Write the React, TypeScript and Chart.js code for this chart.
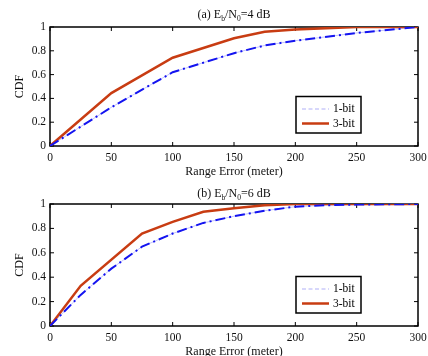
import React, { useEffect, useRef } from "react";
import { Chart, registerables } from "chart.js";
Chart.register(...registerables);

// ---- data ----
const xTicks = [0, 50, 100, 150, 200, 250, 300];
const yTicks = [0, 0.2, 0.4, 0.6, 0.8, 1];

const seriesLabels = ["1-bit", "3-bit"];

// (a) Eb/N0 = 4 dB
const rangeA1 = [0, 50, 100, 150, 175, 200, 250, 300];
const cdfA1 = [0, 0.325, 0.62, 0.78, 0.845, 0.885, 0.95, 1.0];
const rangeA3 = [0, 50, 100, 150, 175, 200, 250, 300];
const cdfA3 = [0, 0.445, 0.742, 0.905, 0.96, 0.98, 1.0, 1.0];

// (b) Eb/N0 = 6 dB
const rangeB1 = [0, 25, 50, 75, 100, 125, 150, 175, 200, 225, 250, 300];
const cdfB1 = [0, 0.255, 0.47, 0.65, 0.758, 0.845, 0.9, 0.945, 0.978, 0.99, 0.995, 1.0];
const rangeB3 = [0, 25, 75, 100, 125, 150, 175, 200, 300];
const cdfB3 = [0, 0.33, 0.758, 0.854, 0.936, 0.965, 0.99, 1.0, 1.0];

const FONT = "'Liberation Serif', 'Times New Roman', serif";
const BLUE = "#1414f0";
const RED = "#c83c12";

const zip = (xs: number[], ys: number[]) => xs.map((x, i) => ({ x, y: ys[i] }));

const framePlugin = {
  id: "frame",
  beforeDatasetsDraw(chart: any) {
    const { ctx, chartArea, scales } = chart;
    const { left, right, top, bottom } = chartArea;
    ctx.save();
    ctx.strokeStyle = "#000";
    ctx.lineWidth = 1.5;
    ctx.strokeRect(left, top, right - left, bottom - top);
    ctx.lineWidth = 1;
    const tl = 4;
    xTicks.forEach((v) => {
      const px = scales.x.getPixelForValue(v);
      ctx.beginPath();
      ctx.moveTo(px, bottom);
      ctx.lineTo(px, bottom - tl);
      ctx.moveTo(px, top);
      ctx.lineTo(px, top + tl);
      ctx.stroke();
    });
    yTicks.forEach((v) => {
      const py = scales.y.getPixelForValue(v);
      ctx.beginPath();
      ctx.moveTo(left, py);
      ctx.lineTo(left + tl, py);
      ctx.moveTo(right, py);
      ctx.lineTo(right - tl, py);
      ctx.stroke();
    });
    // faint thin underlay for the dash-dot 1-bit line
    const meta = chart.getDatasetMeta(0);
    ctx.strokeStyle = "rgba(130,130,255,0.55)";
    ctx.lineWidth = 0.9;
    ctx.beginPath();
    meta.data.forEach((p: any, i: number) => {
      if (i === 0) ctx.moveTo(p.x, p.y);
      else ctx.lineTo(p.x, p.y);
    });
    ctx.stroke();
    ctx.restore();
  },
  afterDraw(chart: any) {
    const { ctx, chartArea } = chart;
    const { right, bottom } = chartArea;
    const bx = right - 122;
    const by = bottom - 49.5;
    const bw = 65;
    const bh = 36.5;
    ctx.save();
    ctx.fillStyle = "#fff";
    ctx.fillRect(bx, by, bw, bh);
    ctx.strokeStyle = "#000";
    ctx.lineWidth = 1.5;
    ctx.strokeRect(bx, by, bw, bh);
    const rows = [by + 12.5, by + 27];
    const ds = chart.data.datasets;
    // 1-bit sample
    ctx.strokeStyle = "rgba(110,110,240,0.55)";
    ctx.lineWidth = 1;
    ctx.setLineDash([4, 2.5]);
    ctx.beginPath();
    ctx.moveTo(bx + 6, rows[0]);
    ctx.lineTo(bx + 33, rows[0]);
    ctx.stroke();
    ctx.setLineDash([]);
    // 3-bit sample
    ctx.strokeStyle = RED;
    ctx.lineWidth = 2.5;
    ctx.beginPath();
    ctx.moveTo(bx + 6, rows[1]);
    ctx.lineTo(bx + 33, rows[1]);
    ctx.stroke();
    ctx.fillStyle = "#000";
    ctx.font = `11.5px ${FONT}`;
    ctx.textBaseline = "middle";
    ctx.textAlign = "left";
    ctx.fillText(ds[0].label, bx + 37, rows[0]);
    ctx.fillText(ds[1].label, bx + 37, rows[1]);
    ctx.restore();
  },
};

function makeConfig(x1: number[], y1: number[], x3: number[], y3: number[], padTop: number): any {
  const font = { family: FONT, size: 11.5 };
  const tfont = { family: FONT, size: 12 };
  return {
    type: "line",
    data: {
      datasets: [
        {
          label: seriesLabels[0],
          data: zip(x1, y1),
          borderColor: BLUE,
          borderWidth: 2,
          borderDash: [10, 4, 2, 4],
          pointRadius: 0,
          tension: 0,
          fill: false,
        },
        {
          label: seriesLabels[1],
          data: zip(x3, y3),
          borderColor: RED,
          borderWidth: 2.5,
          pointRadius: 0,
          tension: 0,
          fill: false,
        },
      ],
    },
    options: {
      animation: false,
      responsive: false,
      maintainAspectRatio: false,
      devicePixelRatio: 1,
      layout: { padding: { top: padTop, right: 10, left: 0, bottom: 0 } },
      plugins: { legend: { display: false }, tooltip: { enabled: false }, title: { display: false } },
      scales: {
        x: {
          type: "linear",
          min: 0,
          max: 300,
          grid: { display: false, drawTicks: false },
          border: { display: false },
          ticks: { font, color: "#111", padding: 5, autoSkip: false, maxRotation: 0, callback: (v: any) => `${v}` },
          afterBuildTicks: (s: any) => {
            s.ticks = xTicks.map((v) => ({ value: v }));
          },
          afterFit: (s: any) => {
            s.height = 34;
            s.paddingLeft = 0;
            s.paddingRight = 0;
          },
          title: { display: true, text: "Range Error (meter)", font: tfont, color: "#111", padding: { top: 0, bottom: 1 } },
        },
        y: {
          type: "linear",
          min: 0,
          max: 1,
          grid: { display: false, drawTicks: false },
          border: { display: false },
          ticks: { font, color: "#111", padding: 4, callback: (v: any) => `${v}` },
          afterBuildTicks: (s: any) => {
            s.ticks = yTicks.map((v) => ({ value: v }));
          },
          afterFit: (s: any) => {
            s.width = 50;
            s.paddingTop = 0;
            s.paddingBottom = 0;
          },
          title: { display: true, text: "CDF", font: tfont, color: "#111", padding: { top: 13, bottom: 0 } },
        },
      },
    },
    plugins: [framePlugin],
  };
}

function Panel(props: { x1: number[]; y1: number[]; x3: number[]; y3: number[]; padTop: number }) {
  const ref = useRef<HTMLCanvasElement>(null);
  useEffect(() => {
    const chart = new Chart(ref.current as HTMLCanvasElement, makeConfig(props.x1, props.y1, props.x3, props.y3, props.padTop));
    return () => chart.destroy();
  }, []);
  return <canvas ref={ref} width={428} height={180} style={{ display: "block", width: 428, height: 180 }} />;
}

const titleStyle: React.CSSProperties = {
  position: "absolute",
  left: 50,
  width: 368,
  textAlign: "center",
  fontFamily: FONT,
  fontSize: 12,
  lineHeight: "12px",
  color: "#111",
  whiteSpace: "nowrap",
};

export default function App() {
  return (
    <div style={{ position: "absolute", left: 0, top: 0, width: 428, height: 356, overflow: "hidden", background: "#fff" }}>
      <div style={{ position: "absolute", left: 0, top: 0 }}>
        <Panel x1={rangeA1} y1={cdfA1} x3={rangeA3} y3={cdfA3} padTop={27} />
      </div>
      <div style={{ ...titleStyle, top: 8 }}>
        (a) E<sub style={{ fontSize: 7.5 }}>b</sub>/N<sub style={{ fontSize: 7.5 }}>0</sub>=4 dB
      </div>
      <div style={{ position: "absolute", left: 0, top: 180 }}>
        <Panel x1={rangeB1} y1={cdfB1} x3={rangeB3} y3={cdfB3} padTop={24} />
      </div>
      <div style={{ ...titleStyle, top: 187 }}>
        (b) E<sub style={{ fontSize: 7.5 }}>b</sub>/N<sub style={{ fontSize: 7.5 }}>0</sub>=6 dB
      </div>
    </div>
  );
}
